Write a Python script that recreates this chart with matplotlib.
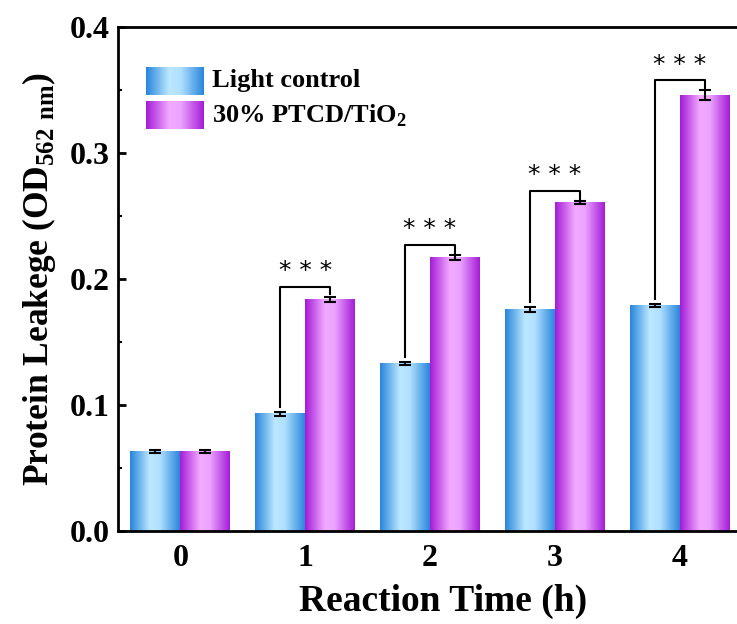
import matplotlib
matplotlib.use('Agg')
import matplotlib.pyplot as plt
import numpy as np
from matplotlib.colors import LinearSegmentedColormap
from matplotlib.patches import Rectangle

plt.rcParams['font.family'] = ['Liberation Serif', 'DejaVu Serif']
plt.rcParams['font.weight'] = 'bold'
plt.rcParams['mathtext.fontset'] = 'custom'
plt.rcParams['mathtext.rm'] = 'Liberation Serif:bold'
plt.rcParams['mathtext.bf'] = 'Liberation Serif:bold'

times = [0, 1, 2, 3, 4]
light = [0.063, 0.093, 0.133, 0.176, 0.179]
light_err = [0.001, 0.0015, 0.0015, 0.0018, 0.001]
ptcd = [0.063, 0.184, 0.217, 0.261, 0.346]
ptcd_err = [0.001, 0.002, 0.002, 0.001, 0.004]
labels = ['Light control', '30% PTCD/TiO$_2$']

blue_map = LinearSegmentedColormap.from_list('b', [(0, '#2a86dc'), (0.4, '#bce8ff'), (0.6, '#b0e0ff'), (1, '#2c88dc')])
purple_map = LinearSegmentedColormap.from_list('p', [(0, '#a41ed8'), (0.4, '#f2aaff'), (0.6, '#eba4ff'), (1, '#a61ed8')])
grad = np.linspace(0, 1, 64).reshape(1, -1)

fig = plt.figure(figsize=(7.37, 6.24), dpi=100)
ax = fig.add_axes([0.160, 0.149, 0.847, 0.807])
w = 0.4

def gradient_bar(x0, h, cmap):
    ax.imshow(grad, cmap=cmap, extent=[x0, x0 + w, 0, h], aspect='auto', zorder=2)
    ax.add_patch(Rectangle((x0, 0), w, h, fill=False, lw=0, zorder=2))

x = np.array(times, dtype=float)
for i in range(len(times)):
    gradient_bar(x[i] - w, light[i], blue_map)
    gradient_bar(x[i], ptcd[i], purple_map)

ax.errorbar(x - w / 2, light, yerr=light_err, fmt='none', ecolor='black', elinewidth=1.5, capsize=4, capthick=1.5, zorder=3)
ax.errorbar(x + w / 2, ptcd, yerr=ptcd_err, fmt='none', ecolor='black', elinewidth=1.5, capsize=4, capthick=1.5, zorder=3)

# significance brackets
for i in range(1, len(times)):
    top = ptcd[i] + ptcd_err[i] + 0.008
    xl = x[i] - w / 2
    xr = x[i] + w / 2
    ax.plot([xl, xl, xr, xr], [light[i] + light_err[i] + 0.004, top, top, ptcd[i] + ptcd_err[i] + 0.002],
            color='black', lw=1.5, zorder=4)
    ax.text(x[i], top + 0.003, '* * *', ha='center', va='bottom', fontsize=18, fontweight='normal',
            family='DejaVu Sans')

ax.set_xlim(-0.5, 4.5)
ax.set_ylim(0, 0.4)
ax.set_xticks(times)
ax.set_xticklabels([str(t) for t in times])
ax.set_yticks([0.0, 0.1, 0.2, 0.3, 0.4])
ax.set_yticklabels(['0.0', '0.1', '0.2', '0.3', '0.4'])
ax.set_yticks([0.05, 0.15, 0.25, 0.35], minor=True)
ax.tick_params(axis='y', which='major', direction='in', length=6, width=2, labelsize=23, pad=6)
ax.tick_params(axis='y', which='minor', direction='in', length=3, width=1.5)
ax.tick_params(axis='x', length=0, labelsize=23, pad=9)
for s in ax.spines.values():
    s.set_linewidth(2)

ax.set_xlabel('Reaction Time (h)', fontsize=27, fontweight='bold')
ax.xaxis.set_label_coords(0.521, -0.105)
ax.set_ylabel('Protein Leakege (OD$_{562\\ \\mathrm{nm}}$)', fontsize=25.5, fontweight='bold', labelpad=8)

# legend with gradient swatches
lx0, lx1 = -0.272, 0.185
for k, (cmap, yc) in enumerate([(blue_map, 0.3575), (purple_map, 0.330)]):
    ax.imshow(grad, cmap=cmap, extent=[lx0, lx1, yc - 0.011, yc + 0.011], aspect='auto', zorder=5)
    ax.text(lx1 + 0.07, yc, labels[k], ha='left', va='center', fontsize=19, fontweight='bold')

ax.set_xlim(-0.5, 4.5)
ax.set_ylim(0, 0.4)
fig.savefig('out.png', dpi=100)
